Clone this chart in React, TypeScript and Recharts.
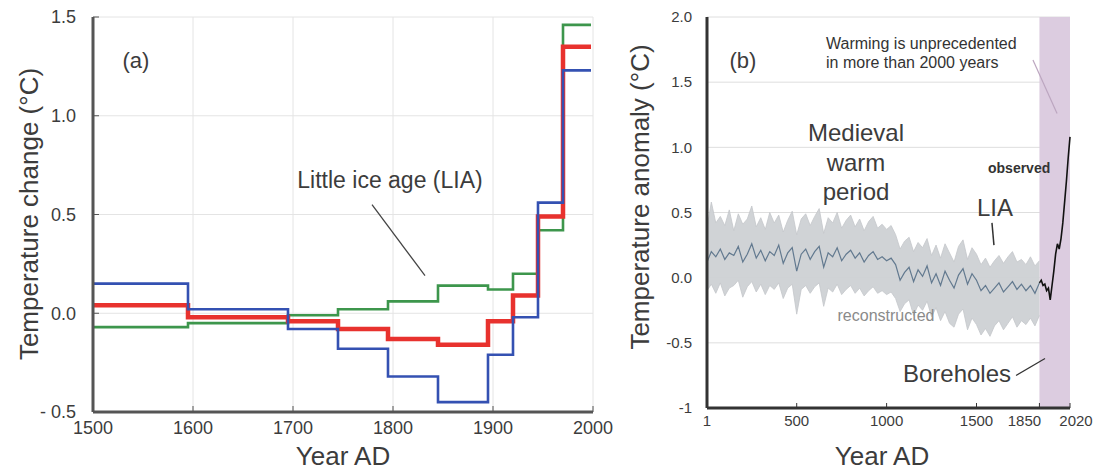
import React from 'react';
import {
  ComposedChart, LineChart, Line, Area, XAxis, YAxis, CartesianGrid, ReferenceArea, ReferenceLine,
} from 'recharts';

// panel (a): step series, value holds until the next boundary year
const A_YEARS = [1500, 1595, 1695, 1745, 1795, 1845, 1895, 1920, 1945, 1970, 1998];
const A_GREEN = [-0.07, -0.05, -0.01, 0.02, 0.06, 0.14, 0.12, 0.2, 0.42, 1.46, 1.46];
const A_RED = [0.04, -0.02, -0.04, -0.08, -0.13, -0.16, -0.04, 0.09, 0.49, 1.35, 1.35];
const A_BLUE = [0.15, 0.02, -0.08, -0.18, -0.32, -0.45, -0.21, -0.02, 0.56, 1.23, 1.23];
const A_XTICKS = [1500, 1600, 1700, 1800, 1900, 2000];
const A_YTICKS = [-0.5, 0, 0.5, 1, 1.5];

// panel (b): reconstruction (mean + uncertainty band) and observed record
const B_YEARS = [
  1, 25, 50, 75, 100, 125, 150, 175, 200, 225, 250, 275, 300, 325, 350, 375, 400, 425, 450, 475,
  500, 525, 550, 575, 600, 625, 650, 675, 700, 725, 750, 775, 800, 825, 850, 875, 900, 925, 950, 975,
  1000, 1025, 1050, 1075, 1100, 1125, 1150, 1175, 1200, 1225, 1250, 1275, 1300, 1325, 1350, 1375,
  1400, 1425, 1450, 1475, 1500, 1525, 1550, 1575, 1600, 1625, 1650, 1675, 1700, 1725, 1750, 1775,
  1800, 1825, 1850,
];
const B_MEAN = [
  0.12, 0.20, 0.16, 0.22, 0.14, 0.19, 0.17, 0.24, 0.12, 0.18, 0.26, 0.15, 0.21, 0.13, 0.20, 0.17,
  0.25, 0.11, 0.19, 0.23, 0.05, 0.18, 0.22, 0.14, 0.20, 0.24, 0.08, 0.19, 0.16, 0.23, 0.13, 0.18,
  0.21, 0.15, 0.19, 0.12, 0.17, 0.20, 0.14, 0.16, 0.13, 0.15, 0.10,
  -0.02, 0.04, 0.08, -0.03, 0.06, 0.01, 0.09, -0.04, 0.03, -0.06, 0.05, -0.02, -0.08, 0.02, 0.07,
  -0.05, 0.03, -0.02, -0.10, -0.06, -0.12, -0.08, -0.04, -0.11, -0.07, -0.03, -0.09, -0.05, -0.10,
  -0.06, -0.12, -0.04,
];
const B_HIGH = [
  0.38, 0.58, 0.42, 0.47, 0.40, 0.52, 0.36, 0.49, 0.41, 0.45, 0.55, 0.39, 0.46, 0.37, 0.50, 0.42,
  0.48, 0.35, 0.44, 0.51, 0.33, 0.45, 0.49, 0.40, 0.47, 0.53, 0.34, 0.46, 0.42, 0.50, 0.38, 0.44,
  0.48, 0.39, 0.45, 0.36, 0.43, 0.47, 0.38, 0.41, 0.37, 0.40, 0.33,
  0.22, 0.28, 0.31, 0.20, 0.27, 0.23, 0.30, 0.17, 0.25, 0.15, 0.26, 0.19, 0.12, 0.24, 0.29, 0.14,
  0.23, 0.18, 0.10, 0.15, 0.08, 0.13, 0.17, 0.11, 0.16, 0.20, 0.12, 0.14, 0.10, 0.16, 0.09, 0.13,
];
const B_LOW = [
  -0.10, -0.05, -0.12, -0.04, -0.14, -0.08, -0.06, -0.02, -0.15, -0.07, -0.03, -0.11, -0.05, -0.13,
  -0.06, -0.09, -0.04, -0.16, -0.08, -0.05, -0.28, -0.09, -0.06, -0.12, -0.07, -0.04, -0.22, -0.08,
  -0.11, -0.05, -0.13, -0.09, -0.06, -0.12, -0.08, -0.14, -0.10, -0.07, -0.12, -0.10, -0.13, -0.11,
  -0.16,
  -0.26, -0.20, -0.17, -0.29, -0.21, -0.25, -0.18, -0.30, -0.23, -0.33, -0.26, -0.35, -0.38, -0.28,
  -0.24, -0.40, -0.31, -0.36, -0.44, -0.39, -0.45, -0.37, -0.33, -0.40, -0.35, -0.30, -0.38, -0.33,
  -0.36, -0.31, -0.37, -0.29,
];
const OBS_YEARS = [1850, 1860, 1870, 1880, 1890, 1900, 1910, 1920, 1930, 1940, 1950, 1960, 1970, 1980, 1990, 2000, 2010, 2020];
const OBS_VALUES = [-0.04, -0.02, -0.06, -0.05, -0.10, -0.08, -0.17, -0.06, 0.05, 0.18, 0.26, 0.22, 0.30, 0.42, 0.58, 0.74, 0.92, 1.08];
const B_XTICKS = [1, 500, 1000, 1500, 1850, 2020];
const B_YTICKS = [-1, -0.5, 0, 0.5, 1, 1.5, 2];

const FONT = '"Liberation Sans", Arial, sans-serif';
const INK = '#3c3c3c';

const dataA = A_YEARS.map((year, i) => ({ year, green: A_GREEN[i], red: A_RED[i], blue: A_BLUE[i] }));
const dataB = B_YEARS.map((year, i) => ({ year, mean: B_MEAN[i], low: B_LOW[i], high: B_HIGH[i] }));
const dataObs = OBS_YEARS.map((year, i) => ({ year, obs: OBS_VALUES[i] }));

const fmtA = (v: number) => (v < 0 ? '- 0.5' : v.toFixed(1));
const fmtB = (v: number) => (v === -1 ? '-1' : v.toFixed(1));

// the two crowded labels at the right end of (b) sit a bit apart from their ticks
const YearTickB = (props: any) => {
  const { x, y, payload } = props;
  const shift = payload.value === 1850 ? -15 : payload.value === 2020 ? 6 : 0;
  return (
    <text x={x + shift} y={y} dy="0.71em" textAnchor="middle" fontSize={15} fill={INK} fontFamily={FONT}>
      {payload.value}
    </text>
  );
};

const PanelA = () => (
  <LineChart width={630} height={472} data={dataA} margin={{ top: 17, right: 37, bottom: 30, left: 33 }}>
    <CartesianGrid stroke="#e4e4e4" />
    <XAxis dataKey="year" type="number" domain={[1500, 2000]} ticks={A_XTICKS} height={30} interval={0}
      tickSize={-6} tickMargin={15} stroke="#555" axisLine={{ stroke: '#555', strokeWidth: 3 }}
      tick={{ fontSize: 18, fill: INK, fontFamily: FONT }} />
    <XAxis xAxisId="top" orientation="top" type="number" domain={[1500, 2000]} ticks={A_XTICKS} height={0} interval={0}
      tickSize={-6} tick={false} stroke="#666" axisLine={{ stroke: '#666', strokeWidth: 2 }} />
    <YAxis type="number" domain={[-0.5, 1.5]} ticks={A_YTICKS} width={60} tickFormatter={fmtA} interval={0}
      tickSize={-6} tickMargin={23} stroke="#555" axisLine={{ stroke: '#555', strokeWidth: 3 }}
      tick={{ fontSize: 18, fill: INK, fontFamily: FONT }} />
    <YAxis yAxisId="right" orientation="right" type="number" domain={[-0.5, 1.5]} ticks={A_YTICKS} width={0} interval={0}
      tickSize={-6} tick={false} stroke="#666" axisLine={{ stroke: '#666', strokeWidth: 2 }} />
    <ReferenceLine segment={[{ x: 1779, y: 0.55 }, { x: 1832, y: 0.19 }]} stroke="#444" strokeWidth={1.3} />
    <Line type="stepAfter" dataKey="green" stroke="#3d964c" strokeWidth={2.6} dot={false} isAnimationActive={false} />
    <Line type="stepAfter" dataKey="red" stroke="#e8322e" strokeWidth={4.5} dot={false} isAnimationActive={false} />
    <Line type="stepAfter" dataKey="blue" stroke="#3451b2" strokeWidth={2.6} dot={false} isAnimationActive={false} />
  </LineChart>
);

const PanelB = () => (
  <ComposedChart width={497} height={472} data={dataB} margin={{ top: 17, right: 27, bottom: 34, left: 47 }}>
    <CartesianGrid stroke="#dedede" vertical={false} />
    <ReferenceArea x1={1850} x2={2020} y1={-1} y2={2} fill="#dccce0" fillOpacity={1} stroke="none" />
    <XAxis dataKey="year" type="number" domain={[1, 2020]} ticks={B_XTICKS} height={30} interval={0}
      tickSize={-5} tickMargin={12} stroke="#333" axisLine={{ stroke: '#333', strokeWidth: 3 }}
      tick={<YearTickB />} />
    <XAxis xAxisId="top" orientation="top" type="number" domain={[1, 2020]} height={0}
      tick={false} tickLine={false} axisLine={{ stroke: '#333', strokeWidth: 3 }} />
    <YAxis type="number" domain={[-1, 2]} ticks={B_YTICKS} width={60} tickFormatter={fmtB} interval={0}
      tickSize={0} tickLine={false} tickMargin={15} axisLine={{ stroke: '#333', strokeWidth: 3 }}
      tick={{ fontSize: 15, fill: INK, fontFamily: FONT }} />
    <Area type="linear" dataKey={(d: { low: number; high: number }) => [d.low, d.high]} stroke="#c4c7ca"
      strokeWidth={0.8} fill="#ced1d4" fillOpacity={0.95} isAnimationActive={false} />
    <Line type="linear" dataKey="mean" stroke="#62798f" strokeWidth={1.2} dot={false} isAnimationActive={false} />
    <Line type="linear" data={dataObs} dataKey="obs" stroke="#111" strokeWidth={1.6} dot={false} isAnimationActive={false} />
    <ReferenceLine segment={[{ x: 1814, y: 1.67 }, { x: 1948, y: 1.26 }]} stroke="#bca6c0" strokeWidth={1.2} />
    <ReferenceLine segment={[{ x: 1586, y: 0.42 }, { x: 1597, y: 0.25 }]} stroke="#333" strokeWidth={1.5} />
    <ReferenceLine segment={[{ x: 1720, y: -0.75 }, { x: 1881, y: -0.62 }]} stroke="#333" strokeWidth={1.2} />
  </ComposedChart>
);

const txt = { fontFamily: FONT, fill: INK } as const;

export default function App() {
  return (
    <div style={{ position: 'absolute', left: 0, top: 0, width: 1097, height: 472, background: '#fff', overflow: 'hidden' }}>
      <div style={{ position: 'absolute', left: 0, top: 0 }}><PanelA /></div>
      <div style={{ position: 'absolute', left: 600, top: 0 }}><PanelB /></div>
      <svg width={1097} height={472} style={{ position: 'absolute', left: 0, top: 0, pointerEvents: 'none' }}>
        <g {...txt} dominantBaseline="central">
          <text x={136} y={60} fontSize={22} textAnchor="middle">(a)</text>
          <text x={390} y={180} fontSize={23} textAnchor="middle">Little ice age (LIA)</text>
          <text x={343} y={456} fontSize={26} textAnchor="middle">Year AD</text>
          <text x={29} y={214} fontSize={26} textAnchor="middle" transform="rotate(-90 29 214)">Temperature change (°C)</text>

          <text x={743} y={60} fontSize={22} textAnchor="middle">(b)</text>
          <text x={826} y={43} fontSize={16} textAnchor="start" fill="#333">Warming is unprecedented</text>
          <text x={826} y={62} fontSize={16} textAnchor="start" fill="#333">in more than 2000 years</text>
          <text x={856} y={132} fontSize={24} textAnchor="middle">Medieval</text>
          <text x={856} y={162} fontSize={24} textAnchor="middle">warm</text>
          <text x={856} y={191} fontSize={24} textAnchor="middle">period</text>
          <text x={988} y={168} fontSize={14} fontWeight="bold" textAnchor="start" fill="#333">observed</text>
          <text x={995} y={207} fontSize={24} textAnchor="middle">LIA</text>
          <text x={886} y={315} fontSize={16} textAnchor="middle" fill="#8a8a8a">reconstructed</text>
          <text x={957} y={373} fontSize={24} textAnchor="middle">Boreholes</text>
          <text x={882} y={456} fontSize={26} textAnchor="middle">Year AD</text>
          <text x={640} y={197} fontSize={26} textAnchor="middle" transform="rotate(-90 640 197)">Temperature anomaly (°C)</text>
        </g>
      </svg>
    </div>
  );
}
